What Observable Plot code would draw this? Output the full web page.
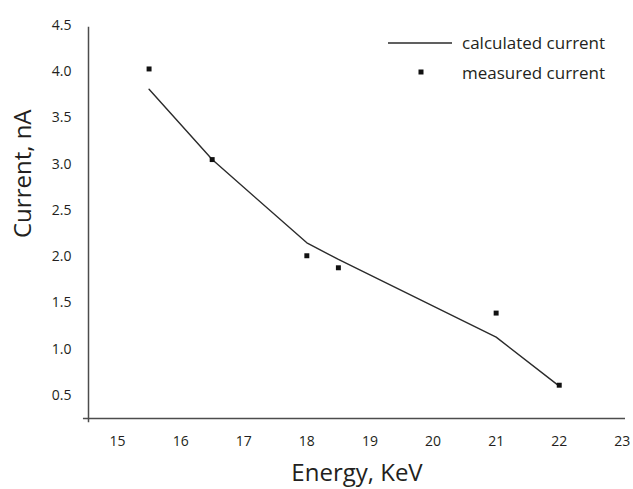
<!DOCTYPE html>
<html><head><meta charset="utf-8">
<script src="https://cdn.jsdelivr.net/npm/d3@7"></script>
<script src="https://cdn.jsdelivr.net/npm/@observablehq/plot@0.6"></script>
<style>
body{margin:0;background:#fff;font-family:"Open Sans",sans-serif}
#wrap{position:relative;width:633px;height:489px}
.leg{position:absolute;left:388px;font-size:17px;color:#231f20;line-height:1}
.leg .row{position:absolute;left:0;white-space:nowrap;height:20px;display:flex;align-items:center}
</style>
</head><body><div id="wrap"></div>
<script>
const calcEnergy = [15.5, 16.5, 18, 18.5, 21, 22];
const calcCurrent = [3.81, 3.05, 2.15, 1.97, 1.13, 0.6];
const measEnergy = [15.5, 16.5, 18, 18.5, 21, 22];
const measCurrent = [4.03, 3.05, 2.01, 1.88, 1.39, 0.61];
const xTicks = [15, 16, 17, 18, 19, 20, 21, 22, 23];
const yTicks = [0.5, 1.0, 1.5, 2.0, 2.5, 3.0, 3.5, 4.0, 4.5];
const xTitle = "Energy, KeV";
const yTitle = "Current, nA";
const seriesNames = ["calculated current", "measured current"];

const calc = calcEnergy.map((e, i) => ({energy: e, current: calcCurrent[i]}));
const meas = measEnergy.map((e, i) => ({energy: e, current: measCurrent[i]}));

const xDomain = [14.54, 23.05];
const yDomain = [0.25, 4.5];
const axisColor = "#4d4d4d";
const ink = "#231f20";

const chart = Plot.plot({
  width: 633,
  height: 489,
  marginLeft: 88,
  marginRight: 8,
  marginTop: 25,
  marginBottom: 71,
  style: {fontFamily: "'Open Sans', sans-serif", color: ink, background: "#fff"},
  x: {domain: xDomain, axis: null},
  y: {domain: yDomain, axis: null},
  marks: [
    Plot.ruleX([xDomain[0]], {y1: 0.205, y2: 4.48, stroke: axisColor, strokeWidth: 1.5}),
    Plot.ruleY([yDomain[0]], {x1: 14.46, x2: 23.05, stroke: axisColor, strokeWidth: 1.5}),
    Plot.axisY({ticks: yTicks, tickSize: 0, tickPadding: 17, tickFormat: d3.format(".1f"), label: null, fontSize: 14, fill: ink}),
    Plot.axisX({ticks: xTicks, tickSize: 0, tickPadding: 18, tickFormat: d3.format("d"), label: null, fontSize: 14, fill: ink}),
    Plot.line(calc, {x: "energy", y: "current", stroke: "#2b2b2b", strokeWidth: 1.4}),
    Plot.dot(meas, {x: "energy", y: "current", symbol: "square", r: 2.8, fill: "#111", stroke: "none"}),
    Plot.text([yTitle], {frameAnchor: "left", rotate: -90, dx: -65, dy: 16, fontSize: 24, fill: ink}),
    Plot.text([xTitle], {frameAnchor: "bottom", dy: 62, fontSize: 24, fill: ink})
  ]
});
const wrap = document.getElementById("wrap");
wrap.appendChild(chart);

const leg = document.createElement("div");
leg.className = "leg";
leg.style.top = "0px";
leg.innerHTML = `
<div class="row" style="top:32px"><svg width="74" height="20"><line x1="0" x2="64" y1="11" y2="11" stroke="#2b2b2b" stroke-width="1.4"/></svg><span>${seriesNames[0]}</span></div>
<div class="row" style="top:62px"><svg width="74" height="20"><rect x="30.5" y="7.5" width="5" height="5" fill="#111"/></svg><span>${seriesNames[1]}</span></div>`;
wrap.appendChild(leg);
</script>
</body></html>
